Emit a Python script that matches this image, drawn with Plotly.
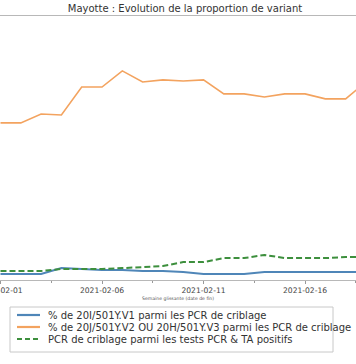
import plotly.graph_objects as go

dates = ["2021-02-%02d" % d for d in range(1, 20)]
v1_pct = [2.3, 2.3, 2.3, 4.5, 4.2, 3.8, 3.8, 3.4, 3.4, 3.0, 2.3, 2.3, 2.3, 3.0, 3.0, 3.0, 3.0, 3.0, 3.0]
v2v3_pct = [59.5, 59.5, 62.9, 62.5, 73.1, 73.1, 79.2, 75.0, 75.8, 75.4, 75.8, 70.5, 70.5, 69.3, 70.5, 70.5, 68.6, 68.6, 75.0]
criblage_pct = [3.4, 3.4, 3.4, 4.2, 4.2, 4.2, 4.5, 4.9, 5.3, 6.8, 6.8, 8.3, 8.3, 9.5, 8.3, 8.3, 8.3, 8.7, 8.7]

names = [
    "% de 20I/501Y.V1 parmi les PCR de criblage",
    "% de 20J/501Y.V2 OU 20H/501Y.V3 parmi les PCR de criblage",
    "PCR de criblage parmi les tests PCR & TA positifs",
]
colors = ["#4f86b8", "#f3a35f", "#3d8f3d"]
dashes = ["solid", "solid", "6px,3px"]
widths = [2, 1.6, 2]
title_text = "Mayotte : Evolution de la proportion de variant"
xlabel = "Semaine glissante (date de fin)"

W, H = 356, 364
TOP, BOT = 16, 280

fig = go.Figure()
for vals, n, c, d, w in zip([v1_pct, v2v3_pct, criblage_pct], names, colors, dashes, widths):
    fig.add_trace(go.Scatter(x=dates, y=vals, mode="lines", name=n,
                             line=dict(color=c, dash=d, width=w), showlegend=False))

def py(p):
    return (BOT - p) / (BOT - TOP)

# manual compact legend
shapes = [dict(type="rect", xref="paper", yref="paper", x0=10 / W, x1=333 / W,
               y0=py(307), y1=py(352), line=dict(color="#c8c8c8", width=1),
               fillcolor="rgba(255,255,255,0.8)", layer="above")]
annotations = []
for i, (n, c, d, w) in enumerate(zip(names, colors, dashes, widths)):
    yy = [315, 327, 339][i]
    shapes.append(dict(type="line", xref="paper", yref="paper", x0=17 / W, x1=40 / W,
                       y0=py(yy), y1=py(yy), line=dict(color=c, width=2.2, dash=("5px,3px" if d != "solid" else "solid"))))
    annotations.append(dict(text=n, xref="paper", yref="paper", x=46 / W, y=py(yy),
                            xanchor="left", yanchor="middle", showarrow=False,
                            font=dict(family="DejaVu Sans", size=10, color="#333333")))

day_ms = 86400000
fig.update_layout(
    width=W, height=H,
    margin=dict(l=0, r=0, t=TOP, b=H - BOT, pad=0),
    paper_bgcolor="white", plot_bgcolor="white",
    title=dict(text=title_text, x=185 / W, xanchor="center", y=1 - 8.5 / H, yanchor="middle",
               yref="container", xref="container",
               font=dict(family="DejaVu Sans", size=10, color="#333333")),
    xaxis=dict(type="date", range=["2021-01-31 23:25", "2021-02-18 12:15"],
               showgrid=False, zeroline=False, showline=True, mirror=True,
               linecolor="#b8b8b8", linewidth=1,
               tickmode="linear", tick0="2021-02-01", dtick=5 * day_ms,
               tickformat="%Y-%m-%d", ticks="outside", ticklen=3, tickcolor="#999999",
               ticklabeloverflow="allow",
               tickfont=dict(family="DejaVu Sans", size=7.6, color="#444444"),
               minor=dict(dtick=2.5 * day_ms, tick0="2021-02-01", ticks="outside", ticklen=2, tickcolor="#999999", showgrid=False),
               title=dict(text=xlabel, standoff=2,
                          font=dict(family="DejaVu Sans", size=4.6, color="#555555")),
               automargin=False),
    yaxis=dict(range=[0, 100], showgrid=False, zeroline=False, showline=False,
               showticklabels=False, ticks=""),
    shapes=shapes, annotations=annotations,
)

fig.write_html("out.html", config={"displayModeBar": False},
               post_script="document.body.style.margin='0';document.body.style.overflow='hidden';")
